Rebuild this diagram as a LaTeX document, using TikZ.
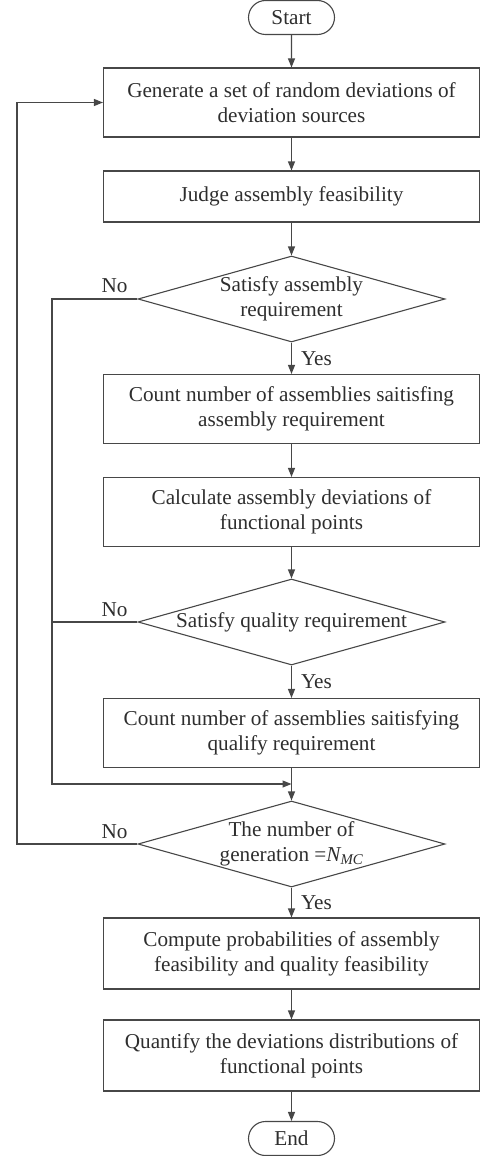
\documentclass[tikz,border=0pt]{standalone}
\usepackage{fontspec}
\setmainfont{Liberation Serif}
\usetikzlibrary{shapes.geometric,shapes.misc,arrows.meta}
\definecolor{ln}{HTML}{474747}
\definecolor{txt}{HTML}{2E2E2E}
\begin{document}
\begin{tikzpicture}[x=1pt,y=-1pt,
  every node/.style={font=\fontsize{21.2}{25}\selectfont, text=txt},
  proc/.style={draw=ln, line width=1.1pt, rectangle, minimum width=376pt, minimum height=69pt, align=center, inner sep=0pt},
  proc1/.style={proc, minimum height=51pt},
  term/.style={draw=ln, line width=1.1pt, rounded rectangle, minimum width=86pt, minimum height=34pt, inner sep=0pt},
  dec/.style={draw=ln, line width=1.1pt, diamond, minimum width=307pt, minimum height=86pt, inner sep=0pt},
  conn/.style={draw=ln, line width=1.1pt},
  arr/.style={conn, -{Triangle[length=9pt,width=7pt]}},
  lab/.style={inner sep=0pt}
]
\useasboundingbox (0,0) rectangle (480,1156);

\node[term] (start) at (291.5,17.5) {Start};
\node[proc] (b1) at (291.5,102.5) {Generate a set of random deviations of\\deviation sources};
\node[proc1] (b2) at (291.5,196.5) {Judge assembly feasibility};
\node[dec, label={[align=center,lab]center:Satisfy assembly\\requirement}] (d1) at (291.5,299) {};
\node[proc] (b3) at (291.5,409) {Count number of assemblies saitisfing\\assembly requirement};
\node[proc] (b4) at (291.5,512) {Calculate assembly deviations of\\functional points};
\node[dec, label={[lab]center:Satisfy quality requirement}] (d2) at (291.5,622) {};
\node[proc] (b5) at (291.5,733) {Count number of assemblies saitisfying\\qualify requirement};
\node[dec, label={[align=center,lab]center:The number of\\generation =\textit{N\textsubscript{MC}}}] (d3) at (291.5,844) {};
\node[proc, minimum height=71pt] (b6) at (291.5,953.5) {Compute probabilities of assembly\\feasibility and quality feasibility};
\node[proc, minimum height=71pt] (b7) at (291.5,1055.5) {Quantify the deviations distributions of\\functional points};
\node[term] (end) at (291.5,1138.5) {End};

\coordinate (m1) at (291.5,784);
\coordinate (l1a) at (52,299);
\coordinate (l1b) at (52,784);
\coordinate (l2a) at (52,622);
\coordinate (l3a) at (17,844);
\coordinate (l3b) at (17,102.5);

\draw[arr] (start) -- (b1);
\draw[arr] (b1) -- (b2);
\draw[arr] (b2) -- (d1);
\draw[arr] (d1) -- node[right, lab, xshift=9pt] {Yes} (b3);
\draw[arr] (b3) -- (b4);
\draw[arr] (b4) -- (d2);
\draw[arr] (d2) -- node[right, lab, xshift=9pt] {Yes} (b5);
\draw[arr] (b5) -- (d3);
\draw[arr] (d3) -- node[right, lab, xshift=9pt] {Yes} (b6);
\draw[arr] (b6) -- (b7);
\draw[arr] (b7) -- (end);

\draw[arr] (d1.west) -- (l1a) -- (l1b) -- (m1);
\draw[conn] (d2.west) -- (l2a);
\draw[arr] (d3.west) -- (l3a) -- (l3b) -- (b1.west);

\node[lab] (no1) at (114.5,286) {No};
\node[lab] (no2) at (114.5,610) {No};
\node[lab] (no3) at (114.5,832) {No};
\end{tikzpicture}
\end{document}
